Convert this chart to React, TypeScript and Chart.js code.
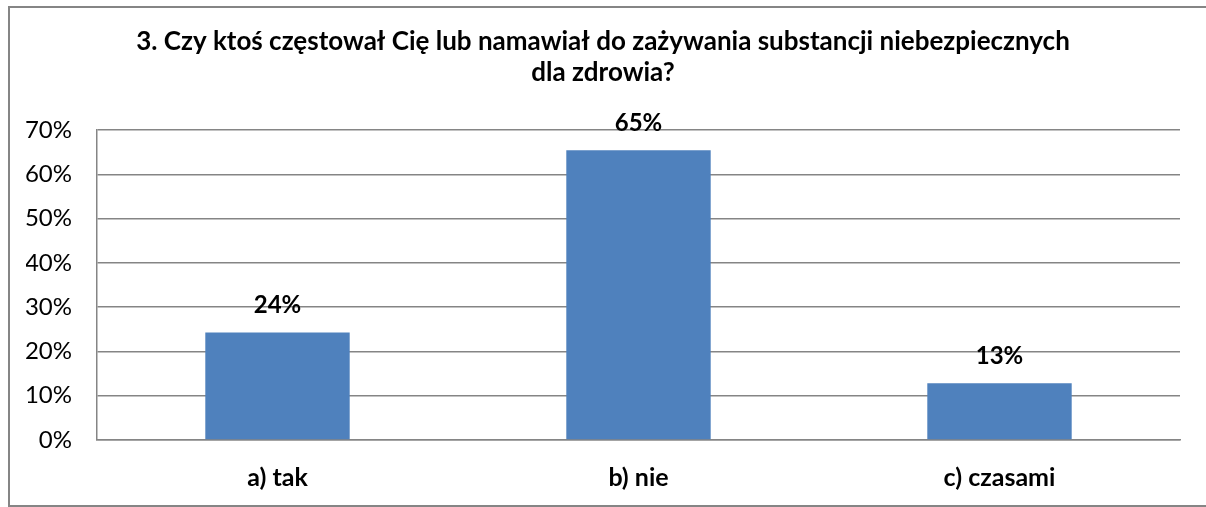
import React, { useEffect, useRef } from "react";
import { Chart, registerables } from "chart.js";

Chart.register(...registerables);

const categories = ["a) tak", "b) nie", "c) czasami"];
const values = [0.243, 0.654, 0.128];
const valueLabels = ["24%", "65%", "13%"];
const titleLines = [
  "3. Czy ktoś częstował Cię lub namawiał do zażywania substancji niebezpiecznych",
  "dla zdrowia?",
];
const yMax = 0.7;
const yStep = 0.1;

const FONT = "Lato, 'Open Sans', sans-serif";

const borderPlugin = {
  id: "outerBorder",
  beforeDraw(chart: any) {
    const ctx = chart.ctx;
    ctx.save();
    ctx.fillStyle = "#ffffff";
    ctx.fillRect(0, 0, chart.width, chart.height);
    ctx.strokeStyle = "#858585";
    ctx.lineWidth = 2;
    ctx.strokeRect(9, 7, 1220, 499);
    ctx.restore();
  },
};

const labelPlugin = {
  id: "valueLabels",
  afterDatasetsDraw(chart: any) {
    const ctx = chart.ctx;
    const meta = chart.getDatasetMeta(0);
    ctx.save();
    ctx.font = `bold 24px ${FONT}`;
    ctx.fillStyle = "#000000";
    ctx.textAlign = "center";
    ctx.textBaseline = "middle";
    meta.data.forEach((bar: any, i: number) => {
      ctx.fillText(valueLabels[i], bar.x, bar.y - 27);
    });
    ctx.restore();
  },
};

export default function App() {
  const ref = useRef<HTMLCanvasElement>(null);
  useEffect(() => {
    if (!ref.current) return;
    const chart = new Chart(ref.current, {
      type: "bar",
      data: {
        labels: categories,
        datasets: [
          {
            data: values,
            backgroundColor: "#4F81BD",
            borderWidth: 0,
            categoryPercentage: 1,
            barPercentage: 0.4,
          },
        ],
      },
      options: {
        responsive: false,
        animation: false,
        layout: { padding: { top: 0, left: 26, right: 26, bottom: 0 } },
        plugins: {
          legend: { display: false },
          tooltip: { enabled: false },
          title: {
            display: true,
            text: titleLines,
            color: "#000000",
            font: { family: FONT, size: 26, weight: "bold", lineHeight: 31 / 26 },
            padding: { top: 26.5, bottom: 41.5 },
          },
        },
        scales: {
          x: {
            grid: { display: false, drawTicks: false },
            border: { color: "#858585", width: 1.5 },
            ticks: {
              color: "#000000",
              font: { family: FONT, size: 25, weight: "bold" },
              padding: 23,
            },
            afterFit(scale: any) {
              scale.height = 67;
            },
          },
          y: {
            min: 0,
            max: yMax,
            grid: { color: "#858585", lineWidth: 1.5, drawTicks: false },
            border: { color: "#858585", width: 1.5 },
            ticks: {
              stepSize: yStep,
              color: "#000000",
              font: { family: FONT, size: 24 },
              padding: 25,
              callback: (v: any) => Math.round(Number(v) * 100) + "%",
            },
            afterFit(scale: any) {
              scale.width = 71;
            },
          },
        },
      },
      plugins: [borderPlugin, labelPlugin],
    });
    return () => chart.destroy();
  }, []);
  return (
    <canvas
      ref={ref}
      width={1206}
      height={507}
      style={{ position: "fixed", left: 0, top: 0, width: 1206, height: 507 }}
    />
  );
}
